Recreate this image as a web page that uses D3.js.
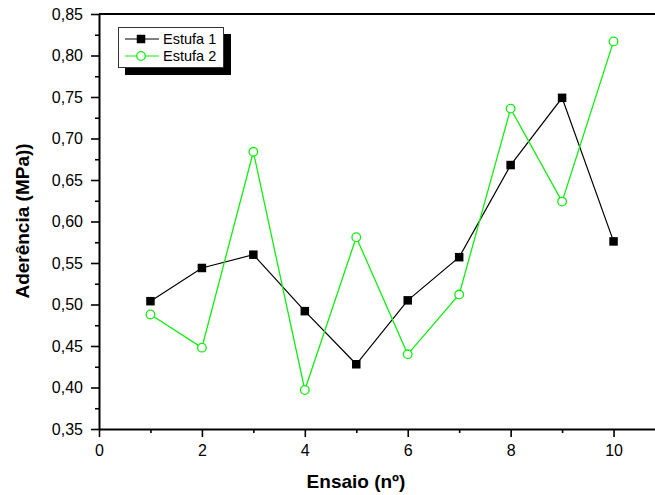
<!DOCTYPE html>
<html>
<head>
<meta charset="utf-8">
<script src="https://cdn.jsdelivr.net/npm/d3@7"></script>
<style>
  body { margin: 0; background: #fff; }
  svg { display: block; font-family: "Liberation Sans", Arial, sans-serif; }
  .axis path, .axis line { stroke: #000; }
  .axis path { stroke-width: 2; }
  .axis .tick line { stroke-width: 1.6; }
  .axis text { font-size: 16px; fill: #000; }
  .axis-title { font-size: 19px; font-weight: bold; fill: #000; }
</style>
</head>
<body>
<svg id="chart"></svg>
<script>
// data
const ensaios = [1, 2, 3, 4, 5, 6, 7, 8, 9, 10];
const estufa1 = [0.504, 0.544, 0.560, 0.492, 0.428, 0.505, 0.557, 0.668, 0.749, 0.576];
const estufa2 = [0.488, 0.448, 0.684, 0.397, 0.581, 0.440, 0.512, 0.736, 0.624, 0.817];
const xTicks = [0, 2, 4, 6, 8, 10];
const yTicks = [0.35, 0.40, 0.45, 0.50, 0.55, 0.60, 0.65, 0.70, 0.75, 0.80, 0.85];
const seriesNames = ["Estufa 1", "Estufa 2"];

const width = 655, height = 495;
const margin = { top: 14, left: 99 };
const innerW = 566, innerH = 415;
const green = "#11ee11";

const svg = d3.select("#chart")
    .attr("width", width)
    .attr("height", height);

const g = svg.append("g")
    .attr("transform", `translate(${margin.left},${margin.top})`);

const x = d3.scaleLinear().domain([0, 11]).range([0, innerW]);
const y = d3.scaleLinear().domain([0.35, 0.85]).range([innerH, 0]);

const fmt = d => d3.format(".2f")(d).replace(".", ",");

// minor ticks
const xMinor = d3.range(1, 11, 2);
const yMinor = d3.range(0.375, 0.85, 0.05);

g.append("g")
    .attr("class", "axis")
    .attr("transform", `translate(0,${innerH})`)
    .call(d3.axisBottom(x).tickValues(xMinor).tickSize(4).tickFormat("").tickSizeOuter(0))
    .select(".domain").remove();
g.append("g")
    .attr("class", "axis")
    .call(d3.axisLeft(y).tickValues(yMinor).tickSize(4).tickFormat("").tickSizeOuter(0))
    .select(".domain").remove();

// major axes
g.append("g")
    .attr("class", "axis")
    .attr("transform", `translate(0,${innerH})`)
    .call(d3.axisBottom(x).tickValues(xTicks).tickSize(8).tickPadding(8).tickSizeOuter(0));
g.append("g")
    .attr("class", "axis")
    .call(d3.axisLeft(y).tickValues(yTicks).tickSize(8).tickPadding(8).tickFormat(fmt).tickSizeOuter(0));

// top frame line
g.append("line")
    .attr("x1", 0).attr("x2", innerW)
    .attr("y1", 0).attr("y2", 0)
    .attr("stroke", "#000").attr("stroke-width", 2);
g.append("line")
    .attr("x1", innerW).attr("x2", innerW)
    .attr("y1", 0).attr("y2", innerH)
    .attr("stroke", "#000").attr("stroke-width", 2);

// axis titles
svg.append("text")
    .attr("class", "axis-title")
    .attr("x", 356).attr("y", 488)
    .attr("text-anchor", "middle")
    .text("Ensaio (nº)");
svg.append("text")
    .attr("class", "axis-title")
    .attr("transform", "translate(29,221) rotate(-90)")
    .attr("text-anchor", "middle")
    .text("Aderência (MPa))");

// lines
const line = d3.line()
    .x((d, i) => x(ensaios[i]))
    .y(d => y(d));

g.append("path")
    .datum(estufa1)
    .attr("fill", "none")
    .attr("stroke", "#000")
    .attr("stroke-width", 1.2)
    .attr("d", line);
g.append("path")
    .datum(estufa2)
    .attr("fill", "none")
    .attr("stroke", green)
    .attr("stroke-width", 1.3)
    .attr("d", line);

// markers
const sq = 8.5;
g.selectAll(".sq")
    .data(estufa1)
    .join("rect")
    .attr("class", "sq")
    .attr("x", (d, i) => x(ensaios[i]) - sq / 2)
    .attr("y", d => y(d) - sq / 2)
    .attr("width", sq).attr("height", sq)
    .attr("fill", "#000");
g.selectAll(".ci")
    .data(estufa2)
    .join("circle")
    .attr("class", "ci")
    .attr("cx", (d, i) => x(ensaios[i]))
    .attr("cy", d => y(d))
    .attr("r", 4.3)
    .attr("fill", "#fff")
    .attr("stroke", green)
    .attr("stroke-width", 1.3);

// legend
const leg = svg.append("g").attr("transform", "translate(118,27)");
leg.append("rect")
    .attr("x", 7).attr("y", 7)
    .attr("width", 106).attr("height", 41)
    .attr("fill", "#000");
leg.append("rect")
    .attr("x", 0.5).attr("y", 0.5)
    .attr("width", 105).attr("height", 40)
    .attr("fill", "#fff")
    .attr("stroke", "#333").attr("stroke-width", 1);

const rowY = [12, 29];
seriesNames.forEach((name, i) => {
    const col = i === 0 ? "#000" : green;
    leg.append("line")
        .attr("x1", 7).attr("x2", 41)
        .attr("y1", rowY[i]).attr("y2", rowY[i])
        .attr("stroke", col).attr("stroke-width", 1.2);
    if (i === 0) {
        leg.append("rect")
            .attr("x", 23 - sq / 2).attr("y", rowY[i] - sq / 2)
            .attr("width", sq).attr("height", sq)
            .attr("fill", "#000");
    } else {
        leg.append("circle")
            .attr("cx", 23).attr("cy", rowY[i]).attr("r", 4.3)
            .attr("fill", "#fff").attr("stroke", green).attr("stroke-width", 1.3);
    }
    leg.append("text")
        .attr("x", 45).attr("y", rowY[i])
        .attr("dy", "0.35em")
        .style("font-size", "14.5px")
        .text(name);
});
</script>
</body>
</html>
